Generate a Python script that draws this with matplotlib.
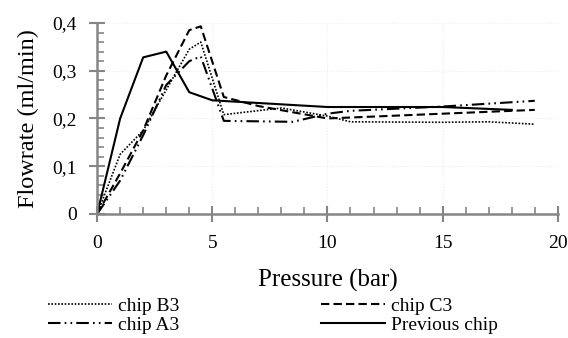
import matplotlib
matplotlib.use('Agg')
import matplotlib.pyplot as plt
from matplotlib.ticker import MultipleLocator, FuncFormatter

# Data
b3_x = [0, 1, 2, 3, 4, 4.5, 5.5, 8, 10, 11, 15, 17, 19]
b3_y = [0, 0.125, 0.175, 0.26, 0.345, 0.36, 0.208, 0.222, 0.205, 0.193, 0.192, 0.193, 0.188]

c3_x = [0, 1, 2, 3, 4, 4.5, 5.5, 7, 10, 15, 19]
c3_y = [0, 0.085, 0.175, 0.29, 0.385, 0.393, 0.245, 0.226, 0.2, 0.21, 0.218]

a3_x = [0, 1, 2, 3, 4, 4.5, 5.5, 8.5, 10, 11, 15, 19]
a3_y = [0, 0.07, 0.165, 0.27, 0.32, 0.33, 0.195, 0.193, 0.21, 0.216, 0.225, 0.237]

prev_x = [0, 1, 2, 3, 4, 5, 10, 15, 18]
prev_y = [0, 0.2, 0.328, 0.34, 0.255, 0.238, 0.224, 0.224, 0.218]

plt.rcParams['font.family'] = ['Liberation Serif', 'DejaVu Serif']

fig = plt.figure(figsize=(5.68, 3.38), dpi=100)
ax = fig.add_axes([0.171, 0.367, 0.811, 0.565])

lb3, = ax.plot(b3_x, b3_y, color='black', lw=1.2, linestyle=(0, (1, 1)), label='chip B3')
lc3, = ax.plot(c3_x, c3_y, color='black', lw=1.5, linestyle=(0, (4, 2)), label='chip C3')
la3, = ax.plot(a3_x, a3_y, color='black', lw=1.5, linestyle=(0, (6, 2, 0.8, 2, 0.8, 2)), label='chip A3')
lprev, = ax.plot(prev_x, prev_y, color='black', lw=1.5, label='Previous chip')

ax.set_xlim(0, 20)
ax.set_ylim(0, 0.4)
ax.xaxis.set_major_locator(MultipleLocator(5))
ax.xaxis.set_minor_locator(MultipleLocator(1))
ax.yaxis.set_major_locator(MultipleLocator(0.1))
ax.yaxis.set_minor_locator(MultipleLocator(0.02))
ax.yaxis.set_major_formatter(FuncFormatter(lambda v, p: '0' if abs(v) < 1e-9 else f'{v:.1f}'.replace('.', ',')))

for s in ['top', 'right']:
    ax.spines[s].set_visible(False)
for s in ['left', 'bottom']:
    ax.spines[s].set_color('#868686')
    ax.spines[s].set_linewidth(1.8)

ax.tick_params(which='major', direction='inout', length=11, width=1.5, color='#868686', labelsize=14)
ax.tick_params(axis='x', which='major', pad=10)
ax.tick_params(axis='y', which='major', pad=9)
ax.tick_params(which='minor', direction='in', length=5, width=1.2, color='#868686')
ax.grid(which='major', linestyle=':', color='#ececec', linewidth=0.8)
ax.set_axisbelow(True)

ax.set_xlabel('Pressure (bar)', fontsize=18, labelpad=12)
ax.set_ylabel('Flowrate (ml/min)', fontsize=17.5, labelpad=10)

fig.legend(handles=[lb3, la3, lc3, lprev], loc='upper left', bbox_to_anchor=(0.084, 0.12),
           ncol=2, frameon=False, fontsize=14, handlelength=3.3, columnspacing=7.3,
           handletextpad=0.3, labelspacing=0.05, borderaxespad=0, borderpad=0)

fig.savefig('out.png', dpi=100)
